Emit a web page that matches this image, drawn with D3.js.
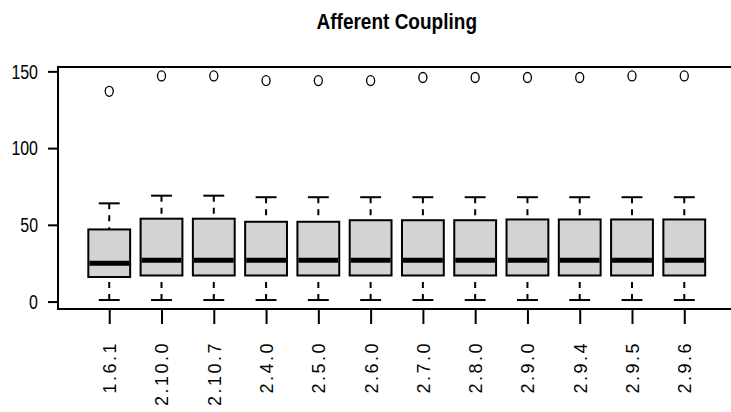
<!DOCTYPE html>
<html>
<head>
<meta charset="utf-8">
<script src="https://cdn.jsdelivr.net/npm/d3@7"></script>
<style>
  body { margin: 0; background: #fff; }
  svg { display: block; }
</style>
</head>
<body>
<div id="chart"></div>
<script>
let width = 731
let height = 412

// data
let versions = ["1.6.1", "2.10.0", "2.10.7", "2.4.0", "2.5.0", "2.6.0", "2.7.0", "2.8.0", "2.9.0", "2.9.4", "2.9.5", "2.9.6"]
let lowerWhisker = [1, 1, 1, 1, 1, 1, 1, 1, 1, 1, 1, 1]
let q1 = [16, 17, 17, 17, 17, 17, 17, 17, 17, 17, 17, 17]
let median = [25, 27, 27, 27, 27, 27, 27, 27, 27, 27, 27, 27]
let q3 = [47, 54, 54, 52, 52, 53, 53, 53, 53.5, 53.5, 53.5, 53.5]
let upperWhisker = [64, 69, 69, 68, 68, 68, 68, 68, 68, 68, 68, 68]
let outliers = [137, 147, 147, 144, 144, 144, 146, 146, 146, 146, 147, 147]
let yTicks = [0, 50, 100, 150]

// no narrow face installed, so squeeze the regular one
let sans = "'Liberation Sans', Arial, sans-serif"

let svg = d3.select('#chart')
            .append('svg')
            .attr('width', width)
            .attr('height', height)

let x = d3.scaleLinear()
          .domain([0.02, versions.length + 0.98])
          .range([58, 735.5])

let y = d3.scaleLinear()
          .domain([-4.84, 152.84])
          .range([309, 67])

let boxW = x(1.4) - x(1)   // half box width
let capW = x(1.2) - x(1)

// title
svg.append('text')
    .attr('transform', 'translate(' + (x.range()[0] + x.range()[1]) / 2 + ',29) scale(0.865,1)')
    .attr('text-anchor', 'middle')
    .style('font-family', sans)
    .style('font-weight', 'bold')
    .style('font-size', '22px')
    .text('Afferent Coupling')

// frame
svg.append('rect')
    .attr('x', x.range()[0])
    .attr('y', y.range()[1])
    .attr('width', x.range()[1] - x.range()[0])
    .attr('height', y.range()[0] - y.range()[1])
    .attr('fill', 'none')
    .attr('stroke', '#000')
    .attr('stroke-width', 2)

// y axis
let yAxis = d3.axisLeft(y)
              .tickValues(yTicks)
              .tickSize(10)
              .tickSizeOuter(0)
let yG = svg.append('g')
    .attr('transform', 'translate(' + x.range()[0] + ',0)')
    .call(yAxis)
yG.select('.domain').remove()
yG.selectAll('line').attr('stroke-width', 2)
yG.selectAll('text')
    .attr('x', 0)
    .attr('transform', 'translate(-20,0) scale(0.76,1)')
    .style('font-family', sans)
    .style('font-size', '21px')
    .attr('fill', '#000')

// x axis
let xAxis = d3.axisBottom(x)
              .tickValues(d3.range(1, versions.length + 1))
              .tickFormat(i => versions[i - 1])
              .tickSize(15)
              .tickSizeOuter(0)
let xG = svg.append('g')
    .attr('transform', 'translate(0,' + y.range()[0] + ')')
    .call(xAxis)
xG.select('.domain').remove()
xG.selectAll('line').attr('stroke-width', 2)
xG.selectAll('text')
    .attr('transform', 'rotate(-90)')
    .attr('text-anchor', 'end')
    .attr('x', -32)
    .attr('y', 0)
    .attr('dy', '0.36em')
    .style('font-family', sans)
    .style('font-size', '18px')
    .style('letter-spacing', '2.5px')
    .attr('fill', '#000')

// boxes
let idx = d3.range(versions.length)
let boxes = svg.append('g')
    .selectAll('g')
    .data(idx)
    .enter()
    .append('g')

boxes.append('line')
    .attr('x1', i => x(i + 1)).attr('x2', i => x(i + 1))
    .attr('y1', i => y(upperWhisker[i])).attr('y2', i => y(q3[i]))
    .attr('stroke', '#000').attr('stroke-width', 2)
    .attr('stroke-dasharray', '6,6')
boxes.append('line')
    .attr('x1', i => x(i + 1)).attr('x2', i => x(i + 1))
    .attr('y1', i => y(lowerWhisker[i])).attr('y2', i => y(q1[i]))
    .attr('stroke', '#000').attr('stroke-width', 2)
    .attr('stroke-dasharray', '6,6')
boxes.append('line')
    .attr('x1', i => x(i + 1) - capW).attr('x2', i => x(i + 1) + capW)
    .attr('y1', i => y(upperWhisker[i])).attr('y2', i => y(upperWhisker[i]))
    .attr('stroke', '#000').attr('stroke-width', 2)
boxes.append('line')
    .attr('x1', i => x(i + 1) - capW).attr('x2', i => x(i + 1) + capW)
    .attr('y1', i => y(lowerWhisker[i])).attr('y2', i => y(lowerWhisker[i]))
    .attr('stroke', '#000').attr('stroke-width', 2)
boxes.append('rect')
    .attr('x', i => x(i + 1) - boxW)
    .attr('width', 2 * boxW)
    .attr('y', i => y(q3[i]))
    .attr('height', i => y(q1[i]) - y(q3[i]))
    .attr('fill', '#d3d3d3')
    .attr('stroke', '#000')
    .attr('stroke-width', 2)
boxes.append('line')
    .attr('x1', i => x(i + 1) - boxW + 1).attr('x2', i => x(i + 1) + boxW - 1)
    .attr('y1', i => y(median[i])).attr('y2', i => y(median[i]))
    .attr('stroke', '#000').attr('stroke-width', 5)
boxes.append('ellipse')
    .attr('cx', i => x(i + 1))
    .attr('cy', i => y(outliers[i]))
    .attr('rx', 4)
    .attr('ry', 5)
    .attr('fill', 'none')
    .attr('stroke', '#000')
    .attr('stroke-width', 1.3)
</script>
</body>
</html>
